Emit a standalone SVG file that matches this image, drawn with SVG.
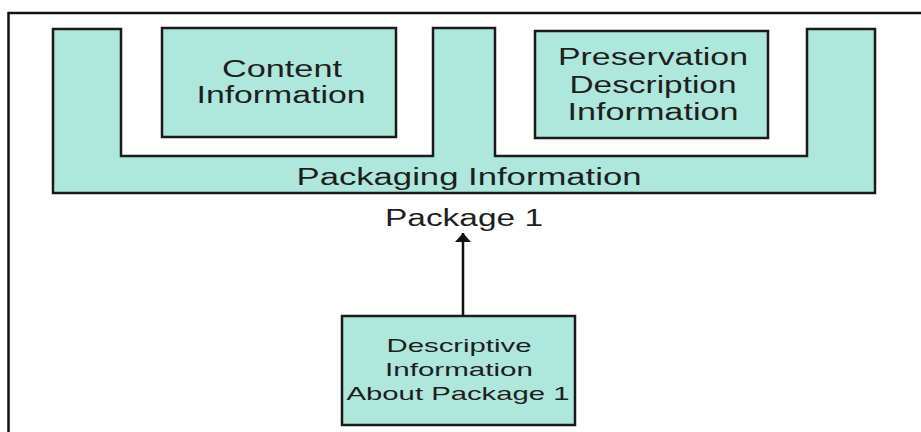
<svg xmlns="http://www.w3.org/2000/svg" width="921" height="432" viewBox="0 0 921 432">
<style>
.box{fill:#aee8dc;stroke:#1a1a1a;stroke-width:2.5;}
.t{font-family:"Liberation Sans",Arial,sans-serif;fill:#1e1e1e;text-anchor:middle;}
.big{font-size:23px;}
.small{font-size:19px;}
.frame{stroke:#111;stroke-width:2.5;fill:none;}
</style>
<defs>
<marker id="ah" markerWidth="9" markerHeight="16" refX="9" refY="8" orient="auto" markerUnits="userSpaceOnUse" viewBox="0 0 9 16">
<path d="M0,0 L9,8 L0,16 Z" fill="#111"/>
</marker>
</defs>
<rect width="921" height="432" fill="#fff"/>
<g id="frame">
<path class="frame" d="M8.5,432 V13 H921"/>
</g>
<g id="packaging">
<path class="box" d="M53,29 H121 V156 H433 V28 H495 V156 H807 V29 H875 V193 H53 Z"/>
<text class="t big" x="469" y="185" textLength="345" lengthAdjust="spacingAndGlyphs">Packaging Information</text>
</g>
<g id="content">
<rect class="box" x="162" y="28" width="234" height="109"/>
<text class="t big" x="282" y="77" textLength="120" lengthAdjust="spacingAndGlyphs">Content</text>
<text class="t big" x="281" y="103" textLength="169" lengthAdjust="spacingAndGlyphs">Information</text>
</g>
<g id="preservation">
<rect class="box" x="535" y="31" width="233" height="107"/>
<text class="t big" x="653" y="65" textLength="190" lengthAdjust="spacingAndGlyphs">Preservation</text>
<text class="t big" x="653" y="93" textLength="167" lengthAdjust="spacingAndGlyphs">Description</text>
<text class="t big" x="653" y="120" textLength="171" lengthAdjust="spacingAndGlyphs">Information</text>
</g>
<g id="package1">
<text class="t big" x="464" y="226" textLength="158" lengthAdjust="spacingAndGlyphs">Package 1</text>
</g>
<g id="descriptive">
<rect class="box" x="342" y="316" width="233" height="109"/>
<text class="t small" x="459" y="352" textLength="145" lengthAdjust="spacingAndGlyphs">Descriptive</text>
<text class="t small" x="459" y="376" textLength="148" lengthAdjust="spacingAndGlyphs">Information</text>
<text class="t small" x="458" y="400" textLength="223" lengthAdjust="spacingAndGlyphs">About Package 1</text>
</g>
<g id="connectors">
<line x1="463" y1="316" x2="463" y2="233" stroke="#111" stroke-width="2.5" marker-end="url(#ah)"/>
</g>
</svg>
